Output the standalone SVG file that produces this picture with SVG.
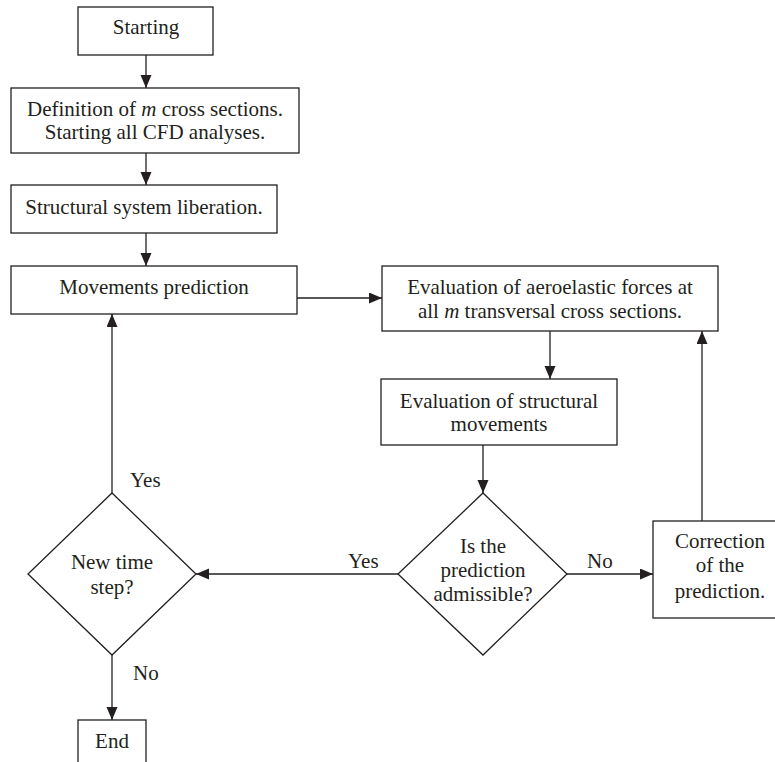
<svg xmlns="http://www.w3.org/2000/svg" width="775" height="762" viewBox="0 0 775 762">
<style>
.n{fill:#fff;stroke:#231f20;stroke-width:1.3}
.t{font-family:"Liberation Serif","Times New Roman",serif;font-size:21px;fill:#231f20;text-anchor:middle}
.c{stroke:#231f20;stroke-width:1.3;fill:none}
.l{font-family:"Liberation Serif","Times New Roman",serif;font-size:21px;fill:#231f20}
</style>
<defs>
<marker id="a" markerWidth="14" markerHeight="12" refX="13" refY="5.5" orient="auto" markerUnits="userSpaceOnUse">
<path d="M0,0 L13,5.5 L0,11 Z" fill="#231f20"/>
</marker>
</defs>
<rect width="775" height="762" fill="#fff"/>
<g id="connectors">
<line class="c" x1="146" y1="55" x2="146" y2="88" marker-end="url(#a)"/>
<line class="c" x1="146" y1="153" x2="146" y2="185" marker-end="url(#a)"/>
<line class="c" x1="146" y1="233" x2="146" y2="266" marker-end="url(#a)"/>
<line class="c" x1="297" y1="298" x2="382" y2="298" marker-end="url(#a)"/>
<line class="c" x1="550" y1="331" x2="550" y2="379" marker-end="url(#a)"/>
<line class="c" x1="483" y1="445" x2="483" y2="493" marker-end="url(#a)"/>
<line class="c" x1="567" y1="574" x2="653" y2="574" marker-end="url(#a)"/>
<line class="c" x1="702" y1="521" x2="702" y2="331" marker-end="url(#a)"/>
<line class="c" x1="398" y1="574" x2="196" y2="574" marker-end="url(#a)"/>
<line class="c" x1="112" y1="493" x2="112" y2="314" marker-end="url(#a)"/>
<line class="c" x1="112" y1="655" x2="112" y2="720" marker-end="url(#a)"/>
<text class="l" x="130" y="487">Yes</text>
<text class="l" x="348" y="568">Yes</text>
<text class="l" x="587" y="568">No</text>
<text class="l" x="133" y="680">No</text>
</g>
<g id="start">
<rect class="n" x="78" y="7" width="135" height="48"/>
<text class="t" x="146" y="34">Starting</text>
</g>
<g id="definition">
<rect class="n" x="11" y="88" width="288" height="65"/>
<text class="t" x="155" y="116">Definition of <tspan font-style="italic">m</tspan> cross sections.</text>
<text class="t" x="155" y="139">Starting all CFD analyses.</text>
</g>
<g id="liberation">
<rect class="n" x="11" y="185" width="266" height="48"/>
<text class="t" x="144" y="214">Structural system liberation.</text>
</g>
<g id="prediction">
<rect class="n" x="11" y="266" width="286" height="48"/>
<text class="t" x="154" y="294">Movements prediction</text>
</g>
<g id="aero">
<rect class="n" x="382" y="266" width="336" height="65"/>
<text class="t" x="550" y="294">Evaluation of aeroelastic forces at</text>
<text class="t" x="550" y="318">all <tspan font-style="italic">m</tspan> transversal cross sections.</text>
</g>
<g id="structural">
<rect class="n" x="381" y="379" width="236" height="66"/>
<text class="t" x="499" y="408">Evaluation of structural</text>
<text class="t" x="499" y="431">movements</text>
</g>
<g id="admissible">
<polygon class="n" points="483,493 567,574 483,655 398,574"/>
<text class="t" x="483" y="553">Is the</text>
<text class="t" x="483" y="577">prediction</text>
<text class="t" x="483" y="601">admissible?</text>
</g>
<g id="correction">
<rect class="n" x="653" y="521" width="125" height="97"/>
<text class="t" x="720" y="548">Correction</text>
<text class="t" x="720" y="572">of the</text>
<text class="t" x="720" y="598">prediction.</text>
</g>
<g id="newstep">
<polygon class="n" points="112,493 196,574 112,655 28,574"/>
<text class="t" x="112" y="569">New time</text>
<text class="t" x="112" y="594">step?</text>
</g>
<g id="end">
<rect class="n" x="78" y="720" width="68" height="50"/>
<text class="t" x="112" y="748">End</text>
</g>
</svg>
